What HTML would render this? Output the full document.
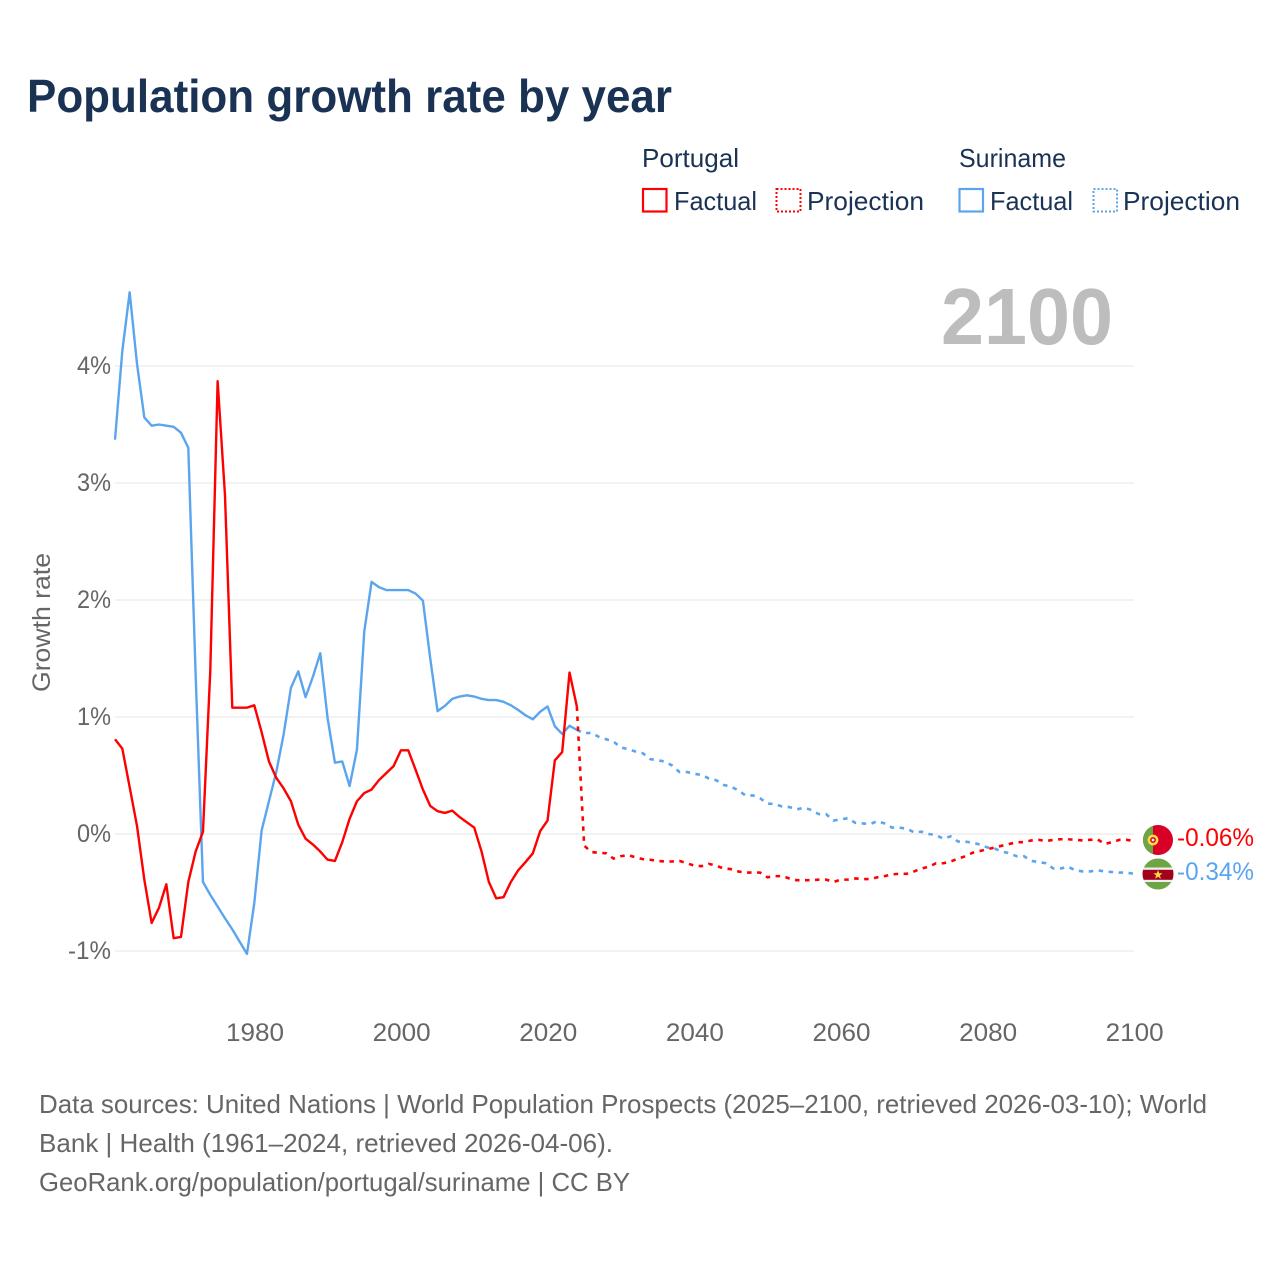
<!DOCTYPE html>
<html lang="en">
<head>
<meta charset="utf-8">
<title>Population growth rate by year</title>
<style>
html,body{margin:0;padding:0;background:#fff;width:1280px;height:1280px;overflow:hidden}
svg{display:block}
text{font-family:"Liberation Sans",sans-serif}
.legend-text{font-size:26px;fill:#1a3354}
.foot{font-size:26px;fill:#666}
</style>
</head>
<body>
<svg id="chart" width="1280" height="1280" viewBox="0 0 1280 1280" xmlns="http://www.w3.org/2000/svg">
  <rect x="0" y="0" width="1280" height="1280" fill="#fff"/>
  <text x="27" y="112" font-size="46" font-weight="700" fill="#1a3354" textLength="645" lengthAdjust="spacingAndGlyphs">Population growth rate by year</text>

  <g>
    <text class="legend-text" x="642" y="167" textLength="97" lengthAdjust="spacingAndGlyphs">Portugal</text>
    <rect x="643" y="189" width="23.5" height="22.5" fill="none" stroke="#ff0000" stroke-width="2.2"/>
    <text class="legend-text" x="674" y="210" textLength="83" lengthAdjust="spacingAndGlyphs">Factual</text>
    <rect x="776.500" y="189" width="24" height="22.5" fill="none" stroke="#ff0000" stroke-width="2" stroke-dasharray="2 2"/>
    <text class="legend-text" x="807" y="210" textLength="117" lengthAdjust="spacingAndGlyphs">Projection</text>

    <text class="legend-text" x="959" y="167" textLength="107" lengthAdjust="spacingAndGlyphs">Suriname</text>
    <rect x="959.500" y="189" width="23.500" height="22.5" fill="none" stroke="#5ba5ee" stroke-width="2.2"/>
    <text class="legend-text" x="990" y="210" textLength="83" lengthAdjust="spacingAndGlyphs">Factual</text>
    <rect x="1093.500" y="189" width="23.500" height="22.5" fill="none" stroke="#5ba5ee" stroke-width="2" stroke-dasharray="2 2"/>
    <text class="legend-text" x="1123" y="210" textLength="117" lengthAdjust="spacingAndGlyphs">Projection</text>
  </g>

  <text x="941" y="344" font-size="80" font-weight="700" fill="#bdbdbd" textLength="172" lengthAdjust="spacingAndGlyphs">2100</text>
  <text transform="translate(50 692) rotate(-90)" font-size="25" fill="#666" textLength="139" lengthAdjust="spacingAndGlyphs">Growth rate</text>

  <g id="grid"></g>
  <g id="yticks"></g>
  <g id="xticks"></g>
  <g id="series"></g>

  <g>
    <clipPath id="clip-pt"><circle cx="1158" cy="840" r="15"/></clipPath>
    <g clip-path="url(#clip-pt)">
      <rect x="1143" y="825" width="30" height="30" fill="#d80027"/>
      <rect x="1143" y="825" width="10" height="30" fill="#6da544"/>
      <circle cx="1153" cy="840" r="5.400" fill="#ffda44"/>
      <circle cx="1153" cy="840" r="2.900" fill="#d80027"/>
      <circle cx="1153" cy="840" r="1.400" fill="#eee"/>
    </g>
  </g>
  <g>
    <clipPath id="clip-sr"><circle cx="1158" cy="874" r="15.500"/></clipPath>
    <g clip-path="url(#clip-sr)">
      <rect x="1142" y="858" width="32" height="32" fill="#6da544"/>
      <rect x="1142" y="867.500" width="32" height="14.500" fill="#eeeeee"/>
      <rect x="1142" y="869.800" width="32" height="10" fill="#a2001d"/>
      <polygon points="1158,870 1159.200,873.200 1162.600,873.300 1159.900,875.400 1160.900,878.700 1158,876.800 1155.100,878.700 1156.100,875.400 1153.400,873.300 1156.800,873.200" fill="#ffda44"/>
    </g>
  </g>
  <text x="1177" y="846" font-size="25" fill="#ff0000" textLength="77" lengthAdjust="spacingAndGlyphs">-0.06%</text>
  <text x="1177" y="880" font-size="25" fill="#5ba5ee" textLength="77" lengthAdjust="spacingAndGlyphs">-0.34%</text>

  <g>
    <text class="foot" x="39" y="1113" textLength="1168" lengthAdjust="spacingAndGlyphs">Data sources: United Nations | World Population Prospects (2025–2100, retrieved 2026-03-10); World</text>
    <text class="foot" x="39" y="1152" textLength="574" lengthAdjust="spacingAndGlyphs">Bank | Health (1961–2024, retrieved 2026-04-06).</text>
    <text class="foot" x="39" y="1191" textLength="591" lengthAdjust="spacingAndGlyphs">GeoRank.org/population/portugal/suriname | CC BY</text>
  </g>
</svg>
<script>
var firstFactualYear = 1961;
var firstProjectionYear = 2024;
var xTickYears = [1980, 2000, 2020, 2040, 2060, 2080, 2100];
var xTickLabels = ["1980", "2000", "2020", "2040", "2060", "2080", "2100"];
var yTickValues = [-1, 0, 1, 2, 3, 4];
var yTickLabels = ["-1%", "0%", "1%", "2%", "3%", "4%"];

var portugalFactual = [
  0.81, 0.73, 0.40, 0.07, -0.39, -0.76, -0.63, -0.43, -0.89, -0.88,
  -0.41, -0.15, 0.02, 1.40, 3.87, 2.90, 1.08, 1.08, 1.08, 1.10,
  0.87, 0.62, 0.48, 0.39, 0.28, 0.08, -0.04, -0.09, -0.15, -0.22,
  -0.23, -0.07, 0.13, 0.28, 0.35, 0.38, 0.46, 0.52, 0.58, 0.715,
  0.715, 0.55, 0.38, 0.24, 0.195, 0.18, 0.20, 0.145, 0.10, 0.055,
  -0.15, -0.41, -0.55, -0.54, -0.41, -0.31, -0.24, -0.165, 0.025, 0.115,
  0.63, 0.70, 1.38, 1.09
];
var portugalProjection = [
  1.09, -0.10, -0.155, -0.16, -0.165, -0.21, -0.19, -0.18, -0.20, -0.215, -0.22,
  -0.23, -0.235, -0.235, -0.23, -0.25, -0.27, -0.275, -0.255, -0.27, -0.295,
  -0.30, -0.32, -0.33, -0.33, -0.33, -0.37, -0.36, -0.36, -0.38, -0.395,
  -0.395, -0.395, -0.39, -0.39, -0.41, -0.39, -0.39, -0.38, -0.385, -0.385,
  -0.37, -0.36, -0.345, -0.34, -0.34, -0.32, -0.295, -0.28, -0.25, -0.25,
  -0.235, -0.21, -0.19, -0.16, -0.145, -0.13, -0.115, -0.10, -0.085, -0.07,
  -0.07, -0.055, -0.05, -0.06, -0.05, -0.045, -0.045, -0.05, -0.055, -0.05,
  -0.045, -0.085, -0.07, -0.05, -0.05, -0.06
];
var surinameFactual = [
  3.37, 4.13, 4.63, 4.02, 3.56, 3.49, 3.50, 3.49, 3.48, 3.43,
  3.30, 1.36, -0.41, -0.52, -0.62, -0.72, -0.815, -0.92, -1.025, -0.59,
  0.03, 0.28, 0.53, 0.85, 1.25, 1.39, 1.17, 1.345, 1.545, 0.99,
  0.61, 0.62, 0.41, 0.72, 1.73, 2.155, 2.11, 2.085, 2.085, 2.085,
  2.085, 2.055, 1.995, 1.50, 1.05, 1.095, 1.155, 1.175, 1.185, 1.175,
  1.155, 1.145, 1.145, 1.13, 1.10, 1.06, 1.015, 0.98, 1.045, 1.09,
  0.92, 0.855, 0.925, 0.89
];
var surinameProjection = [
  0.89, 0.86, 0.865, 0.83, 0.81, 0.79, 0.74, 0.725, 0.705, 0.69, 0.64,
  0.63, 0.62, 0.585, 0.53, 0.53, 0.515, 0.505, 0.475, 0.46, 0.42,
  0.405, 0.375, 0.33, 0.33, 0.305, 0.26, 0.255, 0.235, 0.23, 0.21,
  0.225, 0.205, 0.17, 0.17, 0.115, 0.125, 0.135, 0.095, 0.09, 0.085,
  0.11, 0.09, 0.055, 0.055, 0.045, 0.015, 0.02, 0, -0.01, -0.04,
  -0.02, -0.065, -0.065, -0.075, -0.09, -0.115, -0.125, -0.15, -0.165, -0.19,
  -0.19, -0.23, -0.24, -0.25, -0.295, -0.295, -0.28, -0.31, -0.32, -0.32,
  -0.31, -0.32, -0.325, -0.33, -0.33, -0.34
];

var SVG_NS = "http://www.w3.org/2000/svg";
var RED = "#ff0000";
var BLUE = "#5ba5ee";

function xScale(year) {
  return 115 + (year - 1961) * (1134 - 115) / (2100 - 1961);
}
function yScale(value) {
  return 834 - value * 117;
}
function buildPath(values, startYear) {
  var d = "";
  for (var i = 0; i < values.length; i++) {
    d += (i === 0 ? "M" : "L") + xScale(startYear + i).toFixed(2) + " " + yScale(values[i]).toFixed(2);
  }
  return d;
}
function addSeries(name, values, startYear, color, dashed) {
  var path = document.createElementNS(SVG_NS, "path");
  path.setAttribute("d", buildPath(values, startYear));
  path.setAttribute("fill", "none");
  path.setAttribute("stroke", color);
  path.setAttribute("stroke-width", dashed ? "2.6" : "2.4");
  path.setAttribute("stroke-linejoin", "round");
  if (dashed) {
    path.setAttribute("stroke-dasharray", "4.5 5.5");
  }
  
  
  document.getElementById("series").appendChild(path);
}

yTickValues.forEach(function (value, i) {
  var line = document.createElementNS(SVG_NS, "line");
  line.setAttribute("x1", xScale(1961));
  line.setAttribute("x2", xScale(2100));
  line.setAttribute("y1", yScale(value));
  line.setAttribute("y2", yScale(value));
  line.setAttribute("stroke", "#eeeeee");
  line.setAttribute("stroke-width", "1.6");
  
  
  document.getElementById("grid").appendChild(line);

  var label = yTickLabels[i];
  var width = 34 + (label.length - 2) * 9;
  var text = document.createElementNS(SVG_NS, "text");
  text.setAttribute("x", 111 - width);
  text.setAttribute("y", yScale(value) + 8);
  text.setAttribute("font-size", "25");
  text.setAttribute("fill", "#666");
  text.setAttribute("textLength", width);
  text.setAttribute("lengthAdjust", "spacingAndGlyphs");
  text.textContent = label;
  
  
  document.getElementById("yticks").appendChild(text);
});

xTickYears.forEach(function (year, i) {
  var text = document.createElementNS(SVG_NS, "text");
  text.setAttribute("x", xScale(year) - 28.3);
  text.setAttribute("y", 1041);
  text.setAttribute("font-size", "25");
  text.setAttribute("fill", "#666");
  text.setAttribute("textLength", "58");
  text.setAttribute("lengthAdjust", "spacingAndGlyphs");
  text.textContent = xTickLabels[i];
  
  
  document.getElementById("xticks").appendChild(text);
});

addSeries("suriname-factual-line", surinameFactual, firstFactualYear, BLUE, false);
addSeries("suriname-projection-line", surinameProjection, firstProjectionYear, BLUE, true);
addSeries("portugal-factual-line", portugalFactual, firstFactualYear, RED, false);
addSeries("portugal-projection-line", portugalProjection, firstProjectionYear, RED, true);
</script>
</body>
</html>
